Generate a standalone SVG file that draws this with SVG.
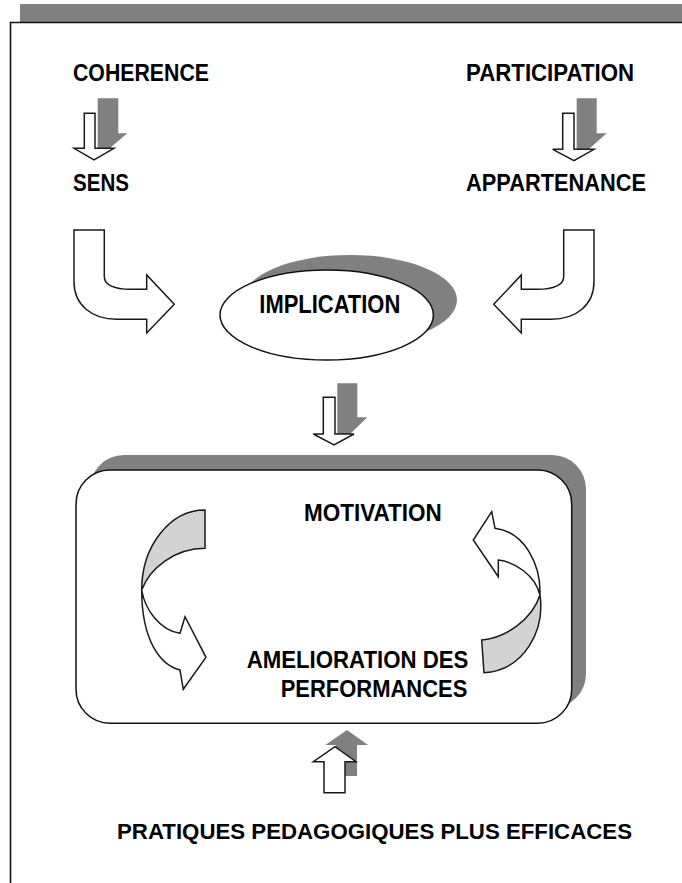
<svg xmlns="http://www.w3.org/2000/svg" width="682" height="883" viewBox="0 0 682 883">
<style>
.t{font-family:"Liberation Sans",Arial,sans-serif;font-weight:bold;fill:#000}
.sh{fill:#808080;stroke:none}
.wa{fill:#fff;stroke:#1a1a1a;stroke-width:1.5;stroke-linejoin:miter}
.lg{fill:#d3d3d3;stroke:#1a1a1a;stroke-width:1.5}
</style>
<rect width="682" height="883" fill="#fff"/>
<g id="frame">
<rect x="20" y="4" width="662" height="18" class="sh"/>
<path d="M10.5,883 L10.5,22.5 L682,22.5" fill="none" stroke="#111" stroke-width="1.6"/>
</g>
<g id="coherence"><text class="t" x="73" y="81" font-size="23" textLength="136" lengthAdjust="spacingAndGlyphs">COHERENCE</text></g>
<g id="participation"><text class="t" x="466" y="81" font-size="23" textLength="168" lengthAdjust="spacingAndGlyphs">PARTICIPATION</text></g>
<g id="sens"><text class="t" x="73" y="191" font-size="23" textLength="56" lengthAdjust="spacingAndGlyphs">SENS</text></g>
<g id="appartenance"><text class="t" x="466" y="191" font-size="23" textLength="180" lengthAdjust="spacingAndGlyphs">APPARTENANCE</text></g>
<g id="implication">
<ellipse cx="350" cy="300" rx="107" ry="45" class="sh"/>
<ellipse cx="326.7" cy="315" rx="106.7" ry="45" fill="#fff" stroke="#111" stroke-width="1.5"/>
<text class="t" x="259.3" y="313.3" font-size="25" textLength="141" lengthAdjust="spacingAndGlyphs">IMPLICATION</text>
</g>
<g id="motivation-box">
<rect x="90" y="455" width="496" height="253" rx="34" class="sh"/>
<rect x="76" y="470" width="495.7" height="253.3" rx="34" fill="#fff" stroke="#111" stroke-width="1.5"/>
</g>
<g id="motivation"><text class="t" x="304" y="520.7" font-size="24" textLength="137.7" lengthAdjust="spacingAndGlyphs">MOTIVATION</text></g>
<g id="amelioration">
<text class="t" x="246.7" y="668.3" font-size="24" textLength="221.7" lengthAdjust="spacingAndGlyphs">AMELIORATION DES</text>
<text class="t" x="280.7" y="697.3" font-size="24" textLength="186.7" lengthAdjust="spacingAndGlyphs">PERFORMANCES</text>
</g>
<g id="pratiques"><text class="t" x="117" y="839.3" font-size="22.5" textLength="515" lengthAdjust="spacingAndGlyphs">PRATIQUES PEDAGOGIQUES PLUS EFFICACES</text></g>
<g id="connectors">
<g id="arrow-coherence-sens">
<path class="sh" d="M97.7,98.3 L118.3,98.3 L118.3,133.3 L127.3,133.3 L110,148 L97.7,148 Z"/>
<path class="wa" d="M84.3,113.3 L95,113.3 L95,148.3 L114,148.3 L94,160 L74,148.3 L84.3,148.3 Z"/>
</g>
<g id="arrow-participation-appartenance">
<path class="sh" d="M576.7,98.3 L596.7,98.3 L596.7,133.3 L606.7,133.3 L589,149 L576.7,149 Z"/>
<path class="wa" d="M562.7,113.3 L574,113.3 L574,149.3 L594,149.3 L574,160.7 L552.7,149.3 L562.7,149.3 Z"/>
</g>
<path id="arrow-sens-implication" class="wa" d="M74,230 L104.3,230 L104.3,276.7 C104.3,285 115,289.3 130,289.3 L146.7,289.3 L146.7,275 L174.3,304.3 L146.7,333 L146.7,319.3 L116.7,319.3 C92,319.3 74,305 74,281.7 Z"/>
<path id="arrow-appartenance-implication" class="wa" transform="matrix(-1,0,0,1,668,0)" d="M74,230 L104.3,230 L104.3,276.7 C104.3,285 115,289.3 130,289.3 L146.7,289.3 L146.7,275 L174.3,304.3 L146.7,333 L146.7,319.3 L116.7,319.3 C92,319.3 74,305 74,281.7 Z"/>
<g id="arrow-implication-motivation">
<path class="sh" d="M337.3,383.3 L357.3,383.3 L357.3,417.3 L367.3,417.3 L350,434 L337.3,434 Z"/>
<path class="wa" d="M323.3,397.3 L335,397.3 L335,434 L354,434 L334,445 L313.3,434 L323.3,434 Z"/>
</g>
<g id="cycle-left">
<path class="lg" d="M205,510 L205,548.3 C175,548.3 150,568 141.7,590 C141.7,546 170,510 205,510 Z"/>
<path class="wa" d="M141.7,590 C145,610 160,630 180,633.3 L185,616.7 L206,657.3 L183.3,689.3 L180,670 C160,665 141.7,640 141.7,590 Z"/>
</g>
<g id="cycle-right">
<path class="lg" d="M484,672.7 L481.7,640 C505,638 532,620 540,595 C545,630 525,670 484,672.7 Z"/>
<path class="wa" d="M540,595 C541,565 525,532 495,528.3 L491.7,511.7 L473.3,540 L498.3,576.7 L498.3,560 C515,562 535,575 540,595 Z"/>
</g>
<g id="arrow-pratiques-motivation">
<path class="sh" d="M336,776 L357,776 L357,745 L368,745 L347,730 L325.3,745 L336,745 Z"/>
<path class="wa" d="M324,792.7 L345,792.7 L345,761.7 L356,761.7 L335,746.7 L313.3,761.7 L324,761.7 Z"/>
</g>
</g>
</svg>
